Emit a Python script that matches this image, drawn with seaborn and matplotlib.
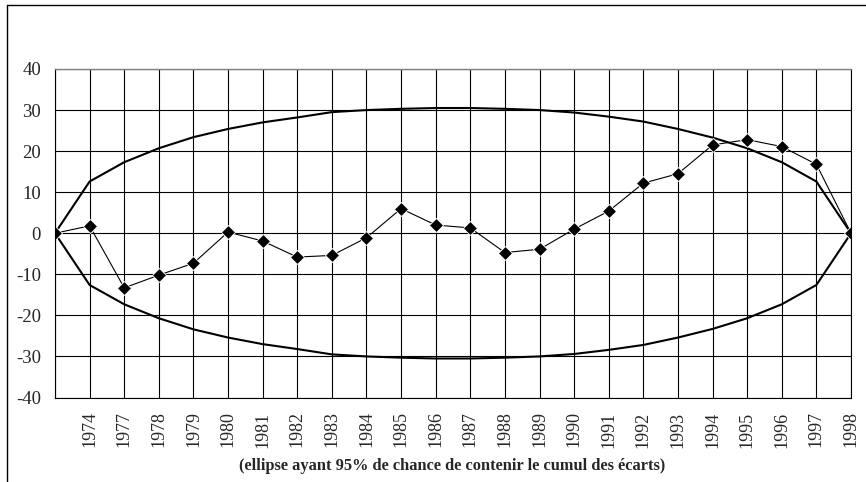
import matplotlib
matplotlib.use("Agg")
import matplotlib.pyplot as plt
from matplotlib.lines import Line2D
import seaborn as sns
import numpy as np
import pandas as pd

# ---- data ----
labels = ["", "1974", "1977", "1978", "1979", "1980", "1981", "1982", "1983",
          "1984", "1985", "1986", "1987", "1988", "1989", "1990", "1991",
          "1992", "1993", "1994", "1995", "1996", "1997", "1998"]
cumul = [0, 1.8, -13.3, -10.2, -7.3, 0.3, -1.9, -5.8, -5.4, -1.1, 6.0, 2.0,
         1.3, -4.7, -3.9, 1.0, 5.4, 12.2, 14.5, 21.5, 22.8, 21.1, 16.8, 0]
upper = [0, 12.6, 17.3, 20.7, 23.4, 25.4, 27.0, 28.2, 29.5, 30.0, 30.3, 30.5,
         30.5, 30.3, 30.0, 29.4, 28.4, 27.2, 25.4, 23.3, 20.7, 17.3, 12.6, 0]
lower = [-v for v in upper]
yticks = [-40, -30, -20, -10, 0, 10, 20, 30, 40]
caption = "(ellipse ayant 95% de chance de contenir le cumul des écarts)"

sns.set_theme(style="white")
plt.rcParams["font.family"] = ["Liberation Serif", "DejaVu Serif"]

W, H = 866, 482
fig = plt.figure(figsize=(W / 100, H / 100), dpi=100)
L, R, T, B = 55, 851, 69, 397.5
ax = fig.add_axes([L / W, 1 - B / H, (R - L) / W, (B - T) / H])

pos = np.arange(len(labels))
df = pd.DataFrame({"pos": pos, "cumul": cumul, "upper": upper, "lower": lower})

ax.set_axisbelow(True)
sns.lineplot(data=df, x="pos", y="upper", ax=ax, color="black", linewidth=1.5)
sns.lineplot(data=df, x="pos", y="lower", ax=ax, color="black", linewidth=1.5)
sns.lineplot(data=df, x="pos", y="cumul", ax=ax, color="black", linewidth=0.8,
             marker="D", markersize=7, markeredgecolor="white",
             markeredgewidth=0.6, markerfacecolor="black")

ax.set_xlim(0, len(labels) - 1)
ax.set_ylim(-40, 40)
ax.set_yticks(yticks)
ax.set_yticklabels([str(v) for v in yticks], fontsize=13.5)
ax.set_xticks(pos)
ax.set_xticklabels(labels, rotation=90, fontsize=13)
ax.set_xlabel("")
ax.set_ylabel("")
ax.grid(True, color="black", linewidth=0.8)
ax.tick_params(axis="x", direction="out", length=4, width=0.8, color="black", pad=6)
ax.tick_params(axis="y", direction="out", length=5, width=0.8, color="black", pad=5)
for side in ["left", "bottom", "right"]:
    ax.spines[side].set_color("black")
    ax.spines[side].set_linewidth(0.8)
ax.spines["top"].set_color("#808080")
ax.spines["top"].set_linewidth(1.0)

fig.text(452 / W, 1 - 466 / H, caption, ha="center", va="center",
         fontsize=11.8, fontweight="bold")

# outer chart border (left and top visible)
fig.add_artist(Line2D([7 / W, 7 / W], [0, 1 - 4.5 / H], transform=fig.transFigure,
                      color="black", linewidth=1.0))
fig.add_artist(Line2D([7 / W, 1], [1 - 4.5 / H, 1 - 4.5 / H], transform=fig.transFigure,
                      color="black", linewidth=1.0))

fig.savefig("out.png", dpi=100)
